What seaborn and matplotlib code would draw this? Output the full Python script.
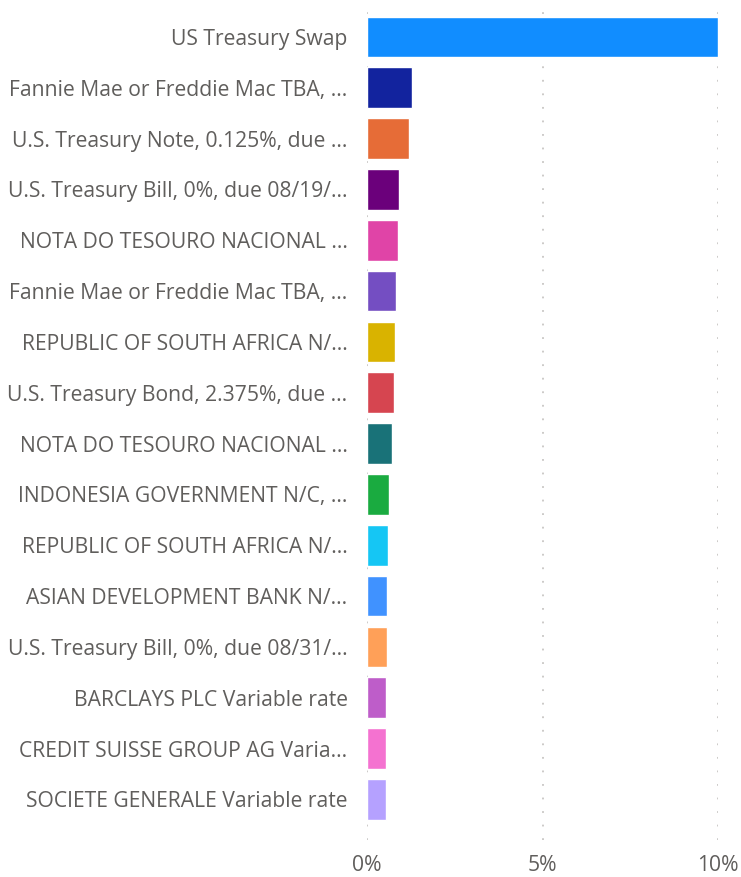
import matplotlib
matplotlib.use("Agg")
import matplotlib.pyplot as plt
from matplotlib.ticker import FuncFormatter
import pandas as pd
import seaborn as sns

holdings = [
    "US Treasury Swap",
    "Fannie Mae or Freddie Mac TBA, ...",
    "U.S. Treasury Note, 0.125%, due ...",
    "U.S. Treasury Bill, 0%, due 08/19/...",
    "NOTA DO TESOURO NACIONAL ...",
    "Fannie Mae or Freddie Mac TBA, ...",
    "REPUBLIC OF SOUTH AFRICA N/...",
    "U.S. Treasury Bond, 2.375%, due ...",
    "NOTA DO TESOURO NACIONAL ...",
    "INDONESIA GOVERNMENT N/C, ...",
    "REPUBLIC OF SOUTH AFRICA N/...",
    "ASIAN DEVELOPMENT BANK N/...",
    "U.S. Treasury Bill, 0%, due 08/31/...",
    "BARCLAYS PLC Variable rate",
    "CREDIT SUISSE GROUP AG Varia...",
    "SOCIETE GENERALE Variable rate",
]
weights = [10.0, 1.27, 1.19, 0.90, 0.87, 0.82, 0.79, 0.76,
           0.70, 0.62, 0.59, 0.56, 0.56, 0.53, 0.53, 0.53]
colors = ["#118DFF", "#12239E", "#E66C37", "#6B007B", "#E044A7", "#744EC2",
          "#D9B300", "#D64550", "#197278", "#1AAB40", "#15C6F4", "#4092FF",
          "#FFA058", "#BE5DC9", "#F472D0", "#B5A1FF"]

df = pd.DataFrame({"row": [str(i) for i in range(len(holdings))],
                   "weight": weights})

sns.set_style("white")
plt.rcParams["font.family"] = ["Open Sans", "DejaVu Sans"]
txt = "#605E5C"

fig = plt.figure(figsize=(7.41, 8.77), dpi=100)
ax = fig.add_axes([367 / 741, 1 - 840 / 877, 351 / 741, 832 / 877])

sns.barplot(data=df, y="row", x="weight", hue="row", palette=colors,
            legend=False, width=0.8, saturation=1, ax=ax, zorder=3)

ax.set_xlim(0, 10)
ax.set_ylim(15.8, -0.57)
ax.set_xticks([0, 5, 10])
ax.xaxis.set_major_formatter(FuncFormatter(lambda v, p: f"{v:.0f}%"))
ax.set_yticks(range(len(holdings)))
ax.set_yticklabels(holdings)
ax.grid(axis="x", color="#C8C6C4", linestyle=(0, (1, 6.5)), linewidth=1.3, zorder=0)
ax.grid(axis="y", visible=False)
ax.set_xlabel("")
ax.set_ylabel("")
for s in ax.spines.values():
    s.set_visible(False)
ax.tick_params(axis="y", length=0, pad=14, labelsize=15.2, labelcolor=txt)
ax.tick_params(axis="x", length=0, pad=11, labelsize=15.2, labelcolor=txt)

fig.savefig("out.png", dpi=100)
plt.close(fig)
